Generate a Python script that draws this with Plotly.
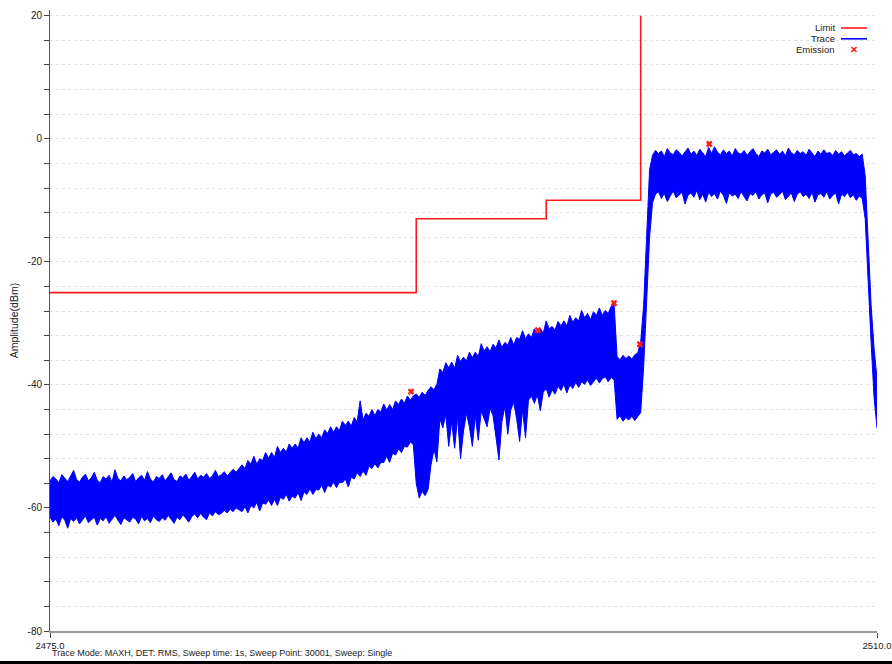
import plotly.graph_objects as go

# Sweep grid (MHz): envelope sampled every 0.125 MHz from 2475 to 2510
FREQ_START = 2475.0
FREQ_STEP = 0.125

# Max-hold trace, upper edge of the trace band (dBm)
trace_upper = [
    # 2475.000 - 2483.000
    -55.6, -54.9, -55.3, -55.9, -54.6, -55.2, -55.7, -54.8, -53.9, -55.4,
    -55.8, -55.0, -54.5, -55.6, -55.1, -54.2, -55.5, -55.9, -54.9, -55.3,
    -54.7, -55.8, -53.8, -55.2, -55.6, -54.8, -55.4, -55.0, -54.4, -55.7,
    -55.1, -54.7, -55.5, -54.1, -55.3, -55.8, -54.9, -55.2, -54.6, -55.6,
    -55.0, -54.3, -55.4, -55.7, -54.8, -55.1, -54.5, -55.5, -54.9, -54.2,
    -55.3, -54.7, -55.0, -54.4, -55.2, -54.8, -53.9, -54.9, -54.6, -54.1,
    -54.8, -54.3, -53.7, -54.2, -53.5,
    # 2483.125 - 2490.375
    -53.0, -53.6, -52.3, -52.9, -51.6, -52.9, -52.0, -52.3, -51.0, -51.9,
    -51.0, -51.8, -50.0, -51.0, -50.3, -50.9, -49.6, -50.3, -49.6, -50.3,
    -48.6, -49.4, -48.6, -49.3, -47.7, -48.7, -48.0, -48.6, -47.3, -47.9,
    -46.8, -47.7, -46.8, -47.4, -45.9, -46.6, -45.9, -46.7, -45.3, -46.0,
    -42.6, -45.7, -44.6, -45.1, -44.0, -45.0, -44.0, -44.4, -43.1, -44.1,
    -43.2, -44.0, -42.6, -43.2, -42.3, -43.0, -41.8, -42.5, -41.8,
    # 2490.500 - 2491.375
    -41.5, -42.0, -41.2, -41.7, -40.9, -40.3, -40.8, -39.9,
    # 2491.500 - 2498.875
    -37.4, -38.0, -36.4, -37.2, -36.3, -37.3, -35.2, -36.2, -35.5, -36.1,
    -34.7, -35.6, -34.7, -35.4, -33.3, -34.5, -33.8, -34.6, -33.4, -34.0,
    -32.7, -33.9, -33.1, -33.5, -32.3, -33.5, -32.3, -32.6, -31.2, -32.5,
    -31.7, -32.3, -30.9, -31.7, -30.8, -31.6, -29.6, -30.9, -30.5, -31.1,
    -29.7, -30.4, -29.6, -30.4, -28.7, -29.8, -29.1, -29.6, -27.9, -29.1,
    -28.4, -29.4, -28.1, -28.7, -27.5, -28.7, -27.9, -28.4, -27.2, -26.9,
    # 2499.000 - 2499.875
    -35.4, -35.9, -35.2, -35.7, -35.3, -35.8, -35.1, -34.8,
    # 2500.000 - 2500.375
    -33.0, -27.0, -16.0, -5.0,
    # 2500.500 - 2509.375
    -2.7, -1.9, -2.4, -2.0, -2.9, -1.6, -2.3, -2.6, -1.8, -2.2,
    -2.8, -2.1, -1.5, -2.5, -2.0, -2.7, -1.7, -2.3, -2.9, -1.4,
    -2.4, -1.3, -2.2, -2.6, -1.8, -2.4, -2.0, -2.8, -1.6, -2.3,
    -2.5, -1.9, -2.7, -2.1, -1.6, -2.4, -2.9, -2.0, -2.3, -1.7,
    -2.6, -2.2, -1.8, -2.5, -2.0, -2.8, -1.5, -2.3, -2.6, -1.9,
    -2.4, -2.1, -2.7, -1.7, -2.3, -2.9, -2.0, -2.5, -1.8, -2.4,
    -2.2, -2.7, -1.9, -2.5, -2.1, -2.8, -2.3, -1.9, -2.6, -2.4,
    -2.9, -2.5,
    # 2509.500 - 2510.000
    -6.0, -17.0, -27.0, -34.0, -39.0,
]

# Max-hold trace, lower edge of the trace band (dBm)
trace_lower = [
    # 2475.000 - 2483.000
    -61.5, -62.3, -61.8, -62.9, -61.4, -62.0, -63.3, -61.7, -62.2, -61.6,
    -62.6, -61.9, -61.3, -62.4, -62.0, -61.5, -62.8, -61.7, -62.1, -61.4,
    -62.5, -61.8, -61.2, -62.0, -62.7, -61.6, -61.9, -62.3, -61.5, -61.8,
    -62.6, -61.4, -62.1, -61.7, -62.4, -61.3, -61.9, -62.2, -61.6, -62.0,
    -61.2, -61.8, -62.5, -61.5, -61.9, -61.1, -61.7, -62.3, -61.4, -61.0,
    -61.6, -60.9, -61.5, -61.9, -60.8, -61.3, -60.6, -61.1, -60.9, -60.4,
    -60.8, -60.2, -60.6, -60.0, -60.3,
    # 2483.125 - 2490.375
    -60.6, -59.8, -60.8, -59.6, -60.0, -59.1, -60.5, -59.2, -59.4, -58.7,
    -59.6, -58.6, -59.6, -58.3, -58.6, -57.8, -58.9, -58.1, -58.4, -57.5,
    -58.8, -57.4, -57.8, -56.9, -57.8, -57.0, -57.1, -56.3, -57.5, -56.3,
    -56.6, -55.8, -56.7, -55.8, -55.9, -55.3, -56.6, -55.0, -55.3, -54.3,
    -54.9, -54.0, -54.7, -53.2, -53.6, -52.8, -53.5, -52.6, -52.6, -51.6,
    -52.6, -51.1, -51.4, -50.4, -51.0, -50.0, -50.1, -49.3, -49.7,
    # 2490.500 - 2491.375
    -56.0, -58.4, -57.3, -58.0, -57.0, -53.0, -50.5, -52.5,
    # 2491.500 - 2498.875
    -45.5, -47.0, -44.8, -50.0, -46.0, -50.3, -45.2, -52.0, -47.5, -44.6,
    -46.8, -50.0, -45.0, -49.0, -44.2, -45.6, -46.8, -43.8, -45.0, -48.5,
    -52.2, -46.0, -43.5, -48.0, -44.1, -42.8, -45.5, -49.2, -44.0, -48.6,
    -42.5, -41.8, -43.0, -41.6, -44.2, -41.2, -40.6, -42.0, -40.8, -41.5,
    -40.2, -40.9, -39.9, -41.3, -40.0, -40.6, -39.6, -40.4, -39.5, -39.9,
    -39.2, -40.1, -39.4, -38.9, -39.7, -39.0, -38.7, -39.5, -38.8, -39.2,
    # 2499.000 - 2499.875
    -45.6, -45.0, -45.9, -45.3, -45.7, -45.1, -45.8, -45.2,
    # 2500.000 - 2500.375
    -44.5, -37.0, -27.0, -16.0,
    # 2500.500 - 2509.375
    -10.4, -9.0, -8.6, -9.7, -8.9, -10.2, -9.3, -8.5, -9.6, -9.1,
    -8.7, -10.6, -9.2, -8.8, -9.5, -8.4, -9.9, -9.0, -10.3, -8.7,
    -9.4, -8.9, -9.8, -8.5, -9.2, -10.5, -8.8, -9.3, -9.0, -9.7,
    -8.6, -9.4, -10.1, -8.9, -9.2, -8.6, -9.8, -9.1, -8.8, -10.4,
    -9.0, -8.7, -9.5, -9.1, -8.5, -9.9, -9.3, -8.8, -10.2, -9.0,
    -8.6, -9.4, -9.0, -9.7, -8.7, -10.3, -9.1, -8.9, -9.5, -8.6,
    -9.8, -9.2, -8.8, -10.6, -9.0, -9.4, -8.7, -9.6, -9.1, -10.0,
    -9.3, -9.7,
    # 2509.500 - 2510.000
    -13.0, -24.0, -33.0, -42.0, -47.0,
]

# Limit mask (step line)
limit_freq = [2475.0, 2490.5, 2490.5, 2496.0, 2496.0, 2500.0, 2500.0]
limit_amp = [-25.0, -25.0, -13.0, -13.0, -10.0, -10.0, 20.0]

# Emission peaks
emission_freq = [2490.28, 2495.65, 2498.87, 2499.97, 2502.90]
emission_amp = [-41.1, -31.1, -26.7, -33.4, -0.85]

# Axis ticks
x_ticks = [2475.0, 2510.0]
x_ticktext = ["2475.0", "2510.0"]
y_ticks = list(range(-80, 21, 4))
y_ticktext = [str(v) if v % 20 == 0 else "" for v in y_ticks]

footer = "Trace Mode: MAXH, DET: RMS, Sweep time: 1s, Sweep Point: 30001, Sweep: Single"

freq = [FREQ_START + FREQ_STEP * i for i in range(len(trace_upper))]

W, H = 892, 664
ML, MR, MT, MB = 50, 15, 10, 33
PW, PH = W - ML - MR, H - MT - MB
FONT = "Liberation Sans, Arial, sans-serif"
TXT = "#222222"
BLUE = "#0000ff"
RED = "#ff1a1a"
GRID = "#e0e0e0"


def px(xp):
    return (xp - ML) / PW


def py(yp):
    return (H - MB - yp) / PH


fig = go.Figure()
fig.add_trace(go.Scatter(x=freq, y=trace_upper, mode="lines", name="Trace",
                         line=dict(color=BLUE, width=1), showlegend=False, hoverinfo="skip"))
fig.add_trace(go.Scatter(x=freq, y=trace_lower, mode="lines", line=dict(color=BLUE, width=1),
                         fill="tonexty", fillcolor=BLUE, showlegend=False, hoverinfo="skip"))
fig.add_trace(go.Scatter(x=limit_freq, y=limit_amp, mode="lines", name="Limit",
                         line=dict(color=RED, width=1.6), showlegend=False))
fig.add_trace(go.Scatter(x=emission_freq, y=emission_amp, mode="markers", name="Emission",
                         marker=dict(symbol="x", size=6, color=RED, line=dict(width=0)),
                         showlegend=False))

# Legend block: label text followed by the line / marker sample
legend_rows = [("Limit", 27.5, "line", RED), ("Trace", 38.3, "line", BLUE),
               ("Emission", 49.3, "x", RED)]
shapes = []
annotations = []
for label, yc, kind, col in legend_rows:
    annotations.append(dict(x=px(837), y=py(yc), xref="paper", yref="paper", text=label,
                            showarrow=False, xanchor="right", yanchor="middle",
                            font=dict(family=FONT, size=9.5, color=TXT)))
    if kind == "line":
        shapes.append(dict(type="line", xref="paper", yref="paper", x0=px(841), x1=px(867),
                           y0=py(yc + 0.5), y1=py(yc + 0.5), line=dict(color=col, width=1.6)))
    else:
        shapes.append(dict(type="line", xref="paper", yref="paper", x0=px(851.5), x1=px(856.5),
                           y0=py(yc - 2.3), y1=py(yc + 2.7), line=dict(color=col, width=1.6)))
        shapes.append(dict(type="line", xref="paper", yref="paper", x0=px(851.5), x1=px(856.5),
                           y0=py(yc + 2.7), y1=py(yc - 2.3), line=dict(color=col, width=1.6)))

annotations.append(dict(x=px(50), y=py(653), xref="paper", yref="paper", text=footer,
                        showarrow=False, xanchor="left", yanchor="middle",
                        font=dict(family=FONT, size=9, color=TXT)))

# dark strip along the bottom edge
shapes.append(dict(type="rect", xref="paper", yref="paper", x0=px(-5), x1=px(W + 5),
                   y0=py(H + 5), y1=py(661), fillcolor="#000", line=dict(width=0), layer="above"))

fig.update_layout(
    width=W, height=H,
    margin=dict(l=ML, r=MR, t=MT, b=MB),
    paper_bgcolor="white", plot_bgcolor="white",
    font=dict(family=FONT, size=9, color=TXT),
    showlegend=False,
    shapes=shapes, annotations=annotations,
    xaxis=dict(range=[2475, 2510], tickvals=x_ticks, ticktext=x_ticktext, automargin=False,
               showgrid=True, gridcolor=GRID, griddash="dot", gridwidth=1,
               showline=True, linecolor="#9a9a9a", linewidth=2, zeroline=False,
               ticks="outside", ticklen=5, tickcolor="#444", tickfont=dict(size=9.5)),
    yaxis=dict(range=[-80, 20.93], tickvals=y_ticks, ticktext=y_ticktext, automargin=False,
               showgrid=True, gridcolor=GRID, griddash="dot", gridwidth=1,
               showline=True, linecolor="#555", linewidth=1, zeroline=False,
               ticks="outside", ticklen=5, tickcolor="#444", tickfont=dict(size=10),
               title=dict(text="Amplitude(dBm)", font=dict(size=10.5), standoff=6)),
)

fig.write_html("out.html")
